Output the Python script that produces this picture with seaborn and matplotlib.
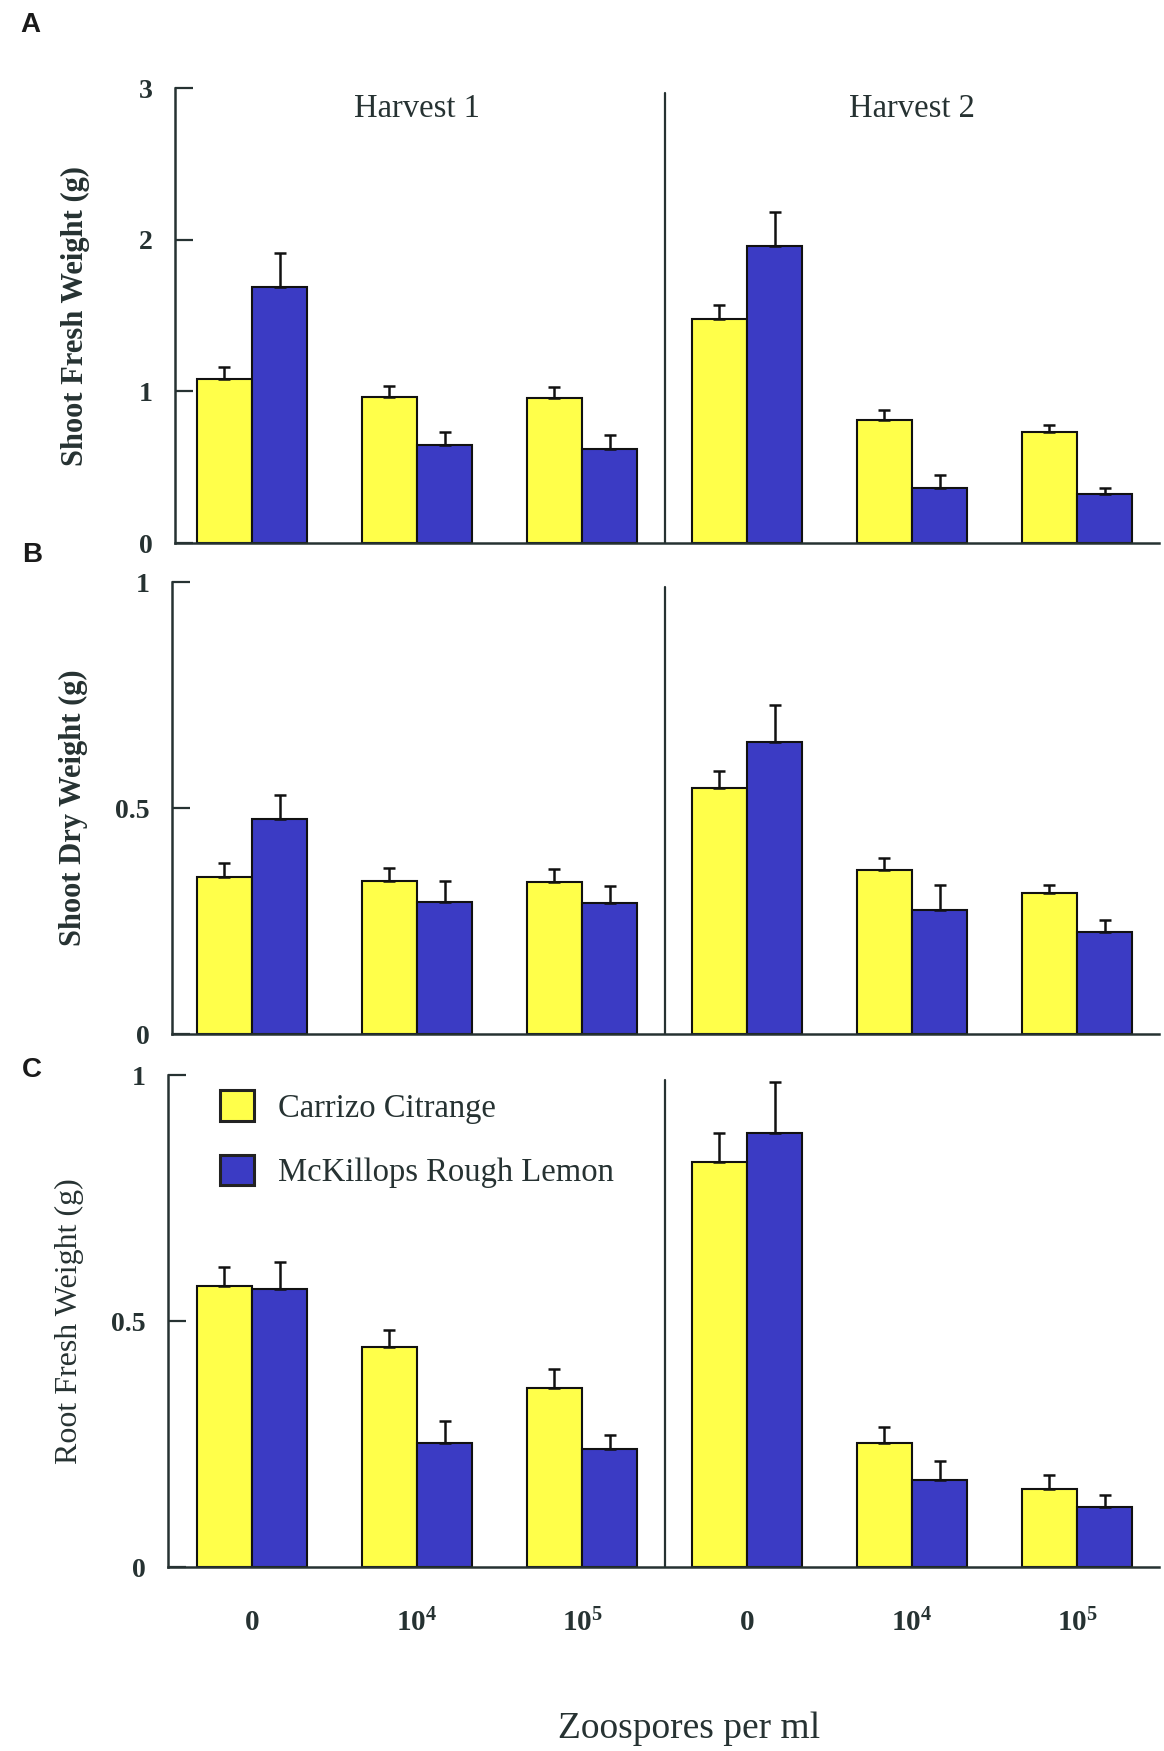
import numpy as np
import pandas as pd
import matplotlib
matplotlib.use("Agg")
import matplotlib.pyplot as plt
from matplotlib.patches import Patch
import seaborn as sns

# ---- data -------------------------------------------------------------
cultivars = ["Carrizo Citrange", "McKillops Rough Lemon"]
groups = ["H1-0", "H1-1e4", "H1-1e5", "H2-0", "H2-1e4", "H2-1e5"]
dose_labels = ["0", "$10^4$", "$10^5$", "0", "$10^4$", "$10^5$"]
harvest_titles = ["Harvest 1", "Harvest 2"]

# Panel A: shoot fresh weight (g), mean and standard error
shoot_fresh_carrizo = [1.08, 0.965, 0.957, 1.48, 0.81, 0.73]
shoot_fresh_carrizo_se = [0.08, 0.07, 0.073, 0.09, 0.07, 0.05]
shoot_fresh_mckillops = [1.69, 0.645, 0.62, 1.96, 0.36, 0.325]
shoot_fresh_mckillops_se = [0.22, 0.085, 0.09, 0.22, 0.09, 0.035]

# Panel B: shoot dry weight (g)
shoot_dry_carrizo = [0.348, 0.339, 0.337, 0.544, 0.363, 0.313]
shoot_dry_carrizo_se = [0.031, 0.029, 0.029, 0.037, 0.027, 0.017]
shoot_dry_mckillops = [0.476, 0.291, 0.289, 0.645, 0.275, 0.225]
shoot_dry_mckillops_se = [0.053, 0.048, 0.039, 0.082, 0.055, 0.028]

# Panel C: root fresh weight (g)
root_fresh_carrizo = [0.571, 0.448, 0.364, 0.823, 0.253, 0.158]
root_fresh_carrizo_se = [0.038, 0.033, 0.038, 0.060, 0.032, 0.030]
root_fresh_mckillops = [0.565, 0.253, 0.239, 0.883, 0.177, 0.122]
root_fresh_mckillops_se = [0.055, 0.043, 0.029, 0.103, 0.038, 0.025]

colors = ["#FFFF4A", "#3B3BC4"]
ink = "#263232"

# ---- style ------------------------------------------------------------
sns.set_style("ticks")
plt.rcParams["font.family"] = ["Liberation Serif", "DejaVu Serif"]
plt.rcParams["mathtext.fontset"] = "custom"
plt.rcParams["mathtext.rm"] = "Liberation Serif:bold"
plt.rcParams["mathtext.bf"] = "Liberation Serif:bold"
plt.rcParams["mathtext.it"] = "Liberation Serif:italic"

W, H = 1164, 1751
fig = plt.figure(figsize=(W / 100, H / 100), dpi=100)


def px_axes(left, top, bottom, right=1159):
    return fig.add_axes([left / W, 1 - bottom / H, (right - left) / W, (bottom - top) / H])


def panel(ax, left_px, carrizo, carrizo_se, mck, mck_se, ymax, yticks, yticklabels,
          ylabel, ylabel_x, ylabel_bold, show_x):
    df = pd.DataFrame({
        "group": groups * 2,
        "cultivar": [cultivars[0]] * 6 + [cultivars[1]] * 6,
        "value": list(carrizo) + list(mck),
    })
    sns.barplot(data=df, x="group", y="value", hue="cultivar", order=groups,
                hue_order=cultivars, palette=colors, saturation=1, width=0.67,
                errorbar=None, edgecolor="#111111", linewidth=1.5, legend=False, ax=ax)
    for cont, vals, se in zip(ax.containers, [carrizo, mck], [carrizo_se, mck_se]):
        xs = [b.get_x() + b.get_width() / 2 for b in cont]
        ax.errorbar(xs, vals, yerr=[np.zeros(len(se)), se], fmt="none",
                    ecolor="#111111", elinewidth=1.8, capsize=4, capthick=1.8, zorder=1)
    spacing = 165.0
    center0 = 252.0
    ax.set_xlim((left_px - center0) / spacing, (1159 - center0) / spacing)
    ax.set_ylim(0, ymax)
    ax.set_yticks(yticks)
    ax.set_yticklabels(yticklabels, fontsize=20, fontweight="bold", color=ink)
    ax.tick_params(axis="y", direction="in", length=13, width=1.6, color=ink, pad=16)
    ax.tick_params(axis="x", length=0, pad=30)
    if show_x:
        ax.set_xticks(range(6))
        ax.set_xticklabels(dose_labels, fontsize=21, fontweight="bold", color=ink)
    else:
        ax.set_xticks([])
    ax.set_xlabel("")
    ax.set_ylabel("")
    for s in ["top", "right"]:
        ax.spines[s].set_visible(False)
    for s in ["left", "bottom"]:
        ax.spines[s].set_linewidth(1.8)
        ax.spines[s].set_color(ink)
    ax.axvline(2.5, ymin=0, ymax=0.99, color=ink, lw=1.6)
    # axis title placed in figure pixels
    bbox = ax.get_position()
    yc = (bbox.y0 + bbox.y1) / 2
    fig.text(ylabel_x / W, yc, ylabel, rotation=90, ha="center", va="center",
             fontsize=22 if ylabel_bold else 23,
             fontweight="bold" if ylabel_bold else "normal", color=ink)


axA = px_axes(175, 88, 543)
panel(axA, 175, shoot_fresh_carrizo, shoot_fresh_carrizo_se, shoot_fresh_mckillops,
      shoot_fresh_mckillops_se, 3, [0, 1, 2, 3], ["0", "1", "2", "3"],
      "Shoot Fresh Weight (g)", 75, True, False)
axA.text(1, 2.86, harvest_titles[0], ha="center", va="center", fontsize=23.5, color=ink)
axA.text(4, 2.86, harvest_titles[1], ha="center", va="center", fontsize=23.5, color=ink)

axB = px_axes(172, 582, 1034)
panel(axB, 172, shoot_dry_carrizo, shoot_dry_carrizo_se, shoot_dry_mckillops,
      shoot_dry_mckillops_se, 1, [0, 0.5, 1], ["0", "0.5", "1"],
      "Shoot Dry Weight (g)", 73, True, False)

axC = px_axes(168, 1075, 1567)
panel(axC, 168, root_fresh_carrizo, root_fresh_carrizo_se, root_fresh_mckillops,
      root_fresh_mckillops_se, 1, [0, 0.5, 1], ["0", "0.5", "1"],
      "Root Fresh Weight (g)", 69, False, True)

handles = [Patch(facecolor=c, edgecolor="#222222", linewidth=2.2) for c in colors]
axC.legend(handles, cultivars, loc="upper left", bbox_to_anchor=(0.052, 0.969),
           frameon=False, fontsize=23.5, handlelength=1.05, handleheight=1.05,
           handletextpad=0.75, labelspacing=0.95, borderpad=0, borderaxespad=0,
           labelcolor=ink)

fig.text(689 / W, 1 - 1729 / H, "Zoospores per ml", ha="center", va="center",
         fontsize=27, color=ink)

for letter, (x, y) in zip("ABC", [(20, 25), (22, 555), (22, 1070)]):
    fig.text(x / W, 1 - y / H, letter, ha="left", va="center", fontsize=20,
             fontweight="bold", family=["Liberation Sans", "DejaVu Sans"], color="#1a1a1a")

fig.savefig("out.png", dpi=100, facecolor="white")
